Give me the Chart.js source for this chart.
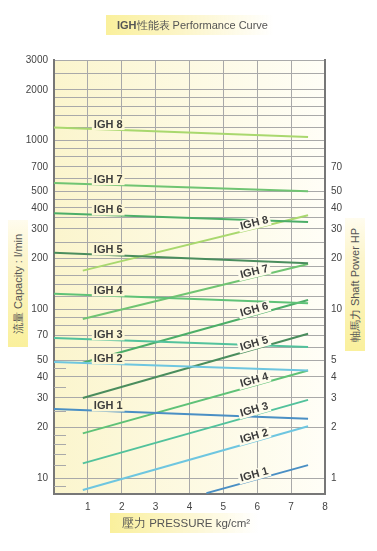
<!DOCTYPE html>
<html>
<head>
<meta charset="utf-8">
<script src="https://cdn.jsdelivr.net/npm/chart.js@4/dist/chart.umd.min.js"></script>
<style>
  body { margin: 0; background: #fff; font-family: "Liberation Sans", Arial, sans-serif; }
  #wrap { position: relative; width: 377px; height: 551px; }
  #chart { position: absolute; left: 0; top: 0; }
  .hbox { position: absolute; height: 20px; line-height: 20px; box-sizing: border-box; color: #555; white-space: nowrap;
          background: linear-gradient(to right, #faf09c, #fcf5c8 45%, rgba(255,255,255,0)); }
  #title { left: 106px; top: 15px; width: 168px; padding-left: 11px; font-size: 11px; }
  #xtitle { left: 110px; top: 513px; width: 148px; padding-left: 12px; font-size: 11.5px; }
  .vbox { position: absolute; width: 20px; background: linear-gradient(to top, #faf09c, #fcf5cc 70%, #fffcee); }
  .vbox span { position: absolute; left: 50%; top: 50%; transform: translate(-50%, -50%) rotate(-90deg);
               white-space: nowrap; font-size: 11px; color: #555; }
  #ytitle { left: 8px; top: 220px; height: 127px; }
  #y2title { left: 345px; top: 218px; height: 133px; }
</style>
</head>
<body>
<div id="wrap">
  <canvas id="chart" width="377" height="551"></canvas>
  <div class="hbox" id="title"><b>IGH</b>性能表 Performance Curve</div>
  <div class="vbox" id="ytitle"><span>流量 Capacity : l/min</span></div>
  <div class="vbox" id="y2title"><span>軸馬力 Shaft Power HP</span></div>
  <div class="hbox" id="xtitle">壓力 PRESSURE kg/cm²</div>
</div>
<script>
// ===== Data =====
const models = ['IGH 1', 'IGH 2', 'IGH 3', 'IGH 4', 'IGH 5', 'IGH 6', 'IGH 7', 'IGH 8'];

// capacity (l/min) at pressure 0 and 7.5
const capPressure = [0, 7.5];
const capacityStart = [25.8, 49, 68, 124, 217, 372, 562, 1195];
const capacityEnd = [22.6, 43.6, 60, 109, 188, 330, 502, 1050];

// shaft power (HP)
const powerStartP = [4.5, 0.85, 0.85, 0.85, 0.85, 0.85, 0.85, 0.85];
const powerStart = [0.82, 0.855, 1.23, 1.85, 3.0, 4.84, 8.8, 17.0];
const powerEndP = 7.5;
const powerEnd = [1.2, 2.04, 2.92, 4.36, 7.2, 11.4, 18.6, 36.2];

const leftGrid = [3000, 2500, 2000, 1800, 1600, 1400, 1200, 1000, 900, 800, 700, 600, 500, 450, 400, 350, 300,
  250, 200, 180, 160, 140, 120, 100, 90, 80, 70, 60, 50, 40, 30, 20, 10];
const leftShort = [45, 35, 25, 18, 16, 14, 12, 9];
const leftLabels = [3000, 2000, 1000, 700, 500, 400, 300, 200, 100, 70, 50, 40, 30, 20, 10];
const rightLabels = [70, 50, 40, 30, 20, 10, 5, 4, 3, 2, 1];
const xLabels = [1, 2, 3, 4, 5, 6, 7, 8];

const yMin = 8.1, yMax = 3000;
const colors = ['#4a8fc4', '#6ec6e0', '#52c29c', '#5fc277', '#4a8d5d', '#4cae68', '#70c472', '#a9d86e'];

// where the model names sit on the lines
const capLabelAt = 1.6;
const powerLabelAt = 5.95;

// ===== Datasets =====
const datasets = [];
models.forEach((m, i) => {
  datasets.push({
    label: m, kind: 'cap', yAxisID: 'y', borderColor: colors[i], borderWidth: 2, pointRadius: 0,
    data: [{ x: capPressure[0], y: capacityStart[i] }, { x: capPressure[1], y: capacityEnd[i] }]
  });
});
models.forEach((m, i) => {
  datasets.push({
    label: m, kind: 'pow', yAxisID: 'y2', borderColor: colors[i], borderWidth: 2, pointRadius: 0,
    data: [{ x: powerStartP[i], y: powerStart[i] }, { x: powerEndP, y: powerEnd[i] }]
  });
});

const gridColor = '#a9a9a9';
const bgLeft = [251, 245, 205], bgRight = [255, 254, 247];

function bgAt(chart, px) {
  const a = chart.chartArea;
  const t = Math.min(1, Math.max(0, (px - a.left) / (a.right - a.left)));
  const c = bgLeft.map((v, k) => Math.round(v + (bgRight[k] - v) * t));
  return `rgb(${c[0]},${c[1]},${c[2]})`;
}

const bgPlugin = {
  id: 'bg',
  beforeDraw(chart) {
    const { ctx, chartArea: a } = chart;
    const g = ctx.createLinearGradient(a.left, 0, a.right, 0);
    g.addColorStop(0, `rgb(${bgLeft})`);
    g.addColorStop(1, `rgb(${bgRight})`);
    ctx.save();
    ctx.fillStyle = g;
    ctx.fillRect(a.left, a.top, a.right - a.left, a.bottom - a.top);
    ctx.restore();
  },
  beforeDatasetsDraw(chart) {
    const { ctx, chartArea: a, scales } = chart;
    ctx.save();
    ctx.strokeStyle = gridColor;
    ctx.lineWidth = 1;
    leftShort.forEach(v => {
      const y = Math.round(scales.y.getPixelForValue(v)) + 0.5;
      ctx.beginPath();
      ctx.moveTo(a.left, y);
      ctx.lineTo(a.left + 12, y);
      ctx.stroke();
    });
    ctx.restore();
  },
  afterDatasetsDraw(chart) {
    const { ctx, scales } = chart;
    ctx.save();
    ctx.font = 'bold 11px "Liberation Sans", Arial, sans-serif';
    ctx.textAlign = 'center';
    ctx.textBaseline = 'middle';
    chart.data.datasets.forEach((ds, di) => {
      const pts = chart.getDatasetMeta(di).data;
      const p0 = pts[0], p1 = pts[1];
      const at = ds.kind === 'cap' ? capLabelAt : powerLabelAt;
      const px = scales.x.getPixelForValue(at);
      const t = (px - p0.x) / (p1.x - p0.x);
      const py = p0.y + t * (p1.y - p0.y);
      const ang = ds.kind === 'cap' ? 0 : Math.atan2(p1.y - p0.y, p1.x - p0.x);
      const w = ctx.measureText(ds.label).width + 4;
      ctx.save();
      ctx.translate(px, py);
      ctx.rotate(ang);
      ctx.translate(0, -5);
      ctx.fillStyle = bgAt(chart, px);
      ctx.fillRect(-w / 2, -5.5, w, 11);
      ctx.fillStyle = '#3c3c3c';
      ctx.fillText(ds.label, 0, 0);
      ctx.restore();
    });
    ctx.restore();
  }
};

new Chart(document.getElementById('chart').getContext('2d'), {
  type: 'line',
  data: { datasets },
  options: {
    responsive: false,
    animation: false,
    layout: { padding: { top: 60, left: 0, right: 0, bottom: 0 }, autoPadding: false },
    plugins: { legend: { display: false }, tooltip: { enabled: false } },
    scales: {
      x: {
        type: 'linear', min: 0, max: 8,
        afterBuildTicks(s) { s.ticks = [0].concat(xLabels).map(v => ({ value: v })); },
        ticks: { callback: v => (xLabels.includes(v) ? String(v) : ''), color: '#444', font: { size: 10 }, padding: 7, autoSkip: false, maxRotation: 0 },
        grid: { color: gridColor, drawTicks: false },
        border: { color: '#777', width: 2 },
        afterFit(s) { s.height = 57; }
      },
      y: {
        type: 'logarithmic', position: 'left', min: yMin, max: yMax,
        afterBuildTicks(s) { s.ticks = leftGrid.map(v => ({ value: v })); },
        ticks: { callback: v => (leftLabels.includes(v) ? String(v) : ''), color: '#444', font: { size: 10 }, padding: 6, autoSkip: false },
        grid: { color: gridColor, drawTicks: false },
        border: { color: '#777', width: 2 },
        afterFit(s) { s.width = 54; }
      },
      y2: {
        type: 'logarithmic', position: 'right', min: yMin / 10, max: yMax / 10,
        afterBuildTicks(s) { s.ticks = rightLabels.map(v => ({ value: v })); },
        ticks: { callback: v => String(v), color: '#444', font: { size: 10 }, padding: 6, autoSkip: false },
        grid: { display: false, drawTicks: false },
        border: { color: '#777', width: 2 },
        afterFit(s) { s.width = 52; }
      }
    }
  },
  plugins: [bgPlugin]
});
</script>
</body>
</html>
